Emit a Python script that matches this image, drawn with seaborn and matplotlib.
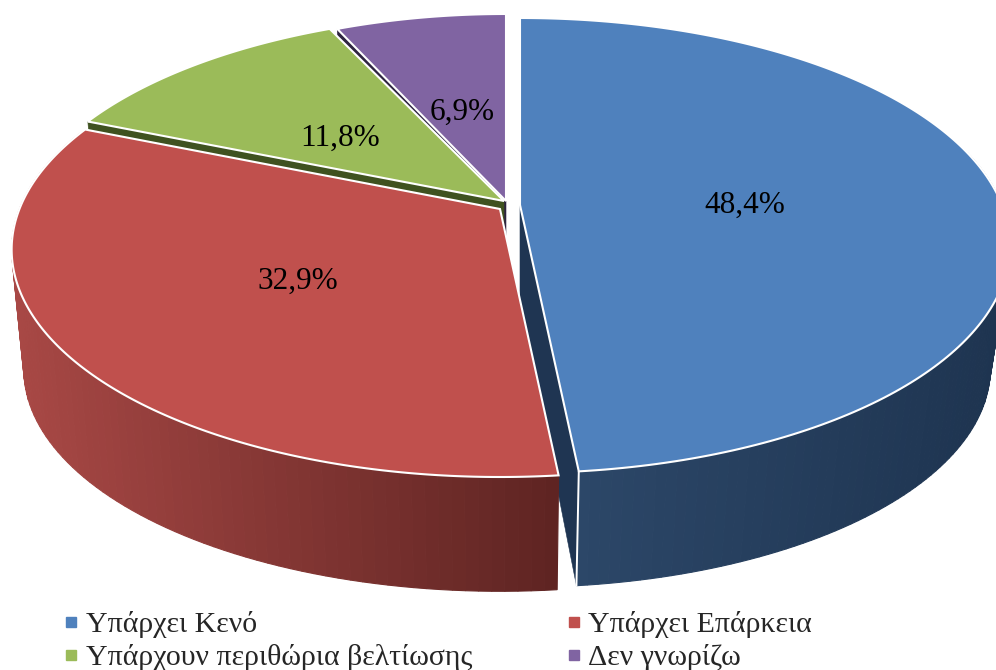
import numpy as np
import matplotlib
matplotlib.use("Agg")
import matplotlib.pyplot as plt
from matplotlib.lines import Line2D
from matplotlib.colors import to_rgb
import seaborn as sns

categories = ["Υπάρχει Κενό", "Υπάρχει Επάρκεια", "Υπάρχουν περιθώρια βελτίωσης", "Δεν γνωρίζω"]
values = [48.4, 32.9, 11.8, 6.9]
value_labels = ["48,4%", "32,9%", "11,8%", "6,9%"]

sns.set_theme(style="white")
plt.rcParams["font.family"] = ["Liberation Serif", "DejaVu Serif"]

top_colors = sns.color_palette(["#4F81BD", "#C0504D", "#9BBB59", "#8064A2"])
wall_light = ["#2C4768", "#A84845", "#3F5220", "#2E2440"]
wall_dark = ["#1E3450", "#5E2422", "#3F5220", "#2E2440"]
edge_walls = ["#1F3552", None, "#3F5220", "#2E2440"]

# pie geometry in pixels of the axes
A, B, K = 482.0, 220.3, 0.178
INNER_DEPTH = 94.0
apexes = [(520, 205), (500, 209), (504, 201), (506, 201)]
width_scale = [1.0, 0.997, 1.0, 0.968]
depths = [125.0, 121.0, 120.0, 120.0]
shrinks = [0.04, 0.025, 0.025, 0.025]
label_pos = [(745, 205), (298, 281), (340, 138), (462, 112)]


def project(theta, i, level=0.0):
    u, v = np.sin(theta), np.cos(theta)
    w = 1 + K * v
    s = 1 - shrinks[i] * level
    x = apexes[i][0] + s * A * width_scale[i] * u / w
    y = apexes[i][1] + depths[i] * level - s * B * v / w
    return x, y


fractions = np.cumsum([0] + values) / np.sum(values) * 2 * np.pi
starts, ends = fractions[:-1], fractions[1:]

fig = plt.figure(figsize=(9.96, 6.70), dpi=100, facecolor="white")
ax = fig.add_axes([0, 0, 1, 1])
ax.set_xlim(0, 996)
ax.set_ylim(670, 0)
ax.axis("off")


def top_face(i, z):
    t = np.linspace(starts[i], ends[i], 200)
    x, y = project(t, i)
    xs = np.r_[apexes[i][0], x]
    ys = np.r_[apexes[i][1], y]
    ax.fill(xs, ys, facecolor=top_colors[i], edgecolor="white", linewidth=1.5,
            joinstyle="miter", zorder=z)


def edge_wall(i, theta, z):
    x0, y0 = project(theta, i)
    x1, y1 = project(theta, i, 1)
    cx, cy = apexes[i]
    ax.fill([cx, x0, x1, cx], [cy, y0, y1, cy + INNER_DEPTH], facecolor=edge_walls[i],
            edgecolor=edge_walls[i], linewidth=0.4, zorder=z)


def outer_wall(i, z):
    t = np.linspace(max(starts[i], np.pi * 0.42), min(ends[i], np.pi * 1.62), 90)
    xt, yt = project(t, i)
    xb, yb = project(t, i, 1)
    lo, hi = np.array(to_rgb(wall_light[i])), np.array(to_rgb(wall_dark[i]))
    xmin, xmax = xt.min(), xt.max()
    for j in range(len(t) - 1):
        f = (0.5 * (xt[j] + xt[j + 1]) - xmin) / (xmax - xmin)
        c = lo + (hi - lo) * f
        ax.fill([xt[j], xt[j + 1], xb[j + 1], xb[j]], [yt[j], yt[j + 1], yb[j + 1], yb[j]],
                facecolor=c, edgecolor=c, linewidth=0.8, zorder=z)


# back to front: purple, green, blue, red
edge_wall(3, starts[3], 1)
top_face(3, 2)
edge_wall(2, starts[2], 3)
top_face(2, 4)
edge_wall(0, ends[0], 5)
outer_wall(0, 6)
x0, y0 = project(ends[0], 0)
x1, y1 = project(ends[0], 0, 1)
ax.plot([x0, x1], [y0, y1], color="white", linewidth=1.4, zorder=6.5)
top_face(0, 7)
outer_wall(1, 8)
top_face(1, 9)

for (x, y), s in zip(label_pos, value_labels):
    ax.text(x, y, s, ha="center", va="center", fontsize=22.5, color="black", zorder=20)

handles = [Line2D([], [], linestyle="", marker="s", markersize=6.8, color=top_colors[i],
                  label=categories[i]) for i in (0, 2, 1, 3)]
leg = ax.legend(handles=handles, ncol=2, loc="upper left", bbox_to_anchor=(64 / 996, 1 - 611 / 670),
                frameon=False, fontsize=21.5, handlelength=0.5, handletextpad=0.24,
                columnspacing=3.14, labelspacing=0.2, borderpad=0, borderaxespad=0)

fig.savefig("out.png", dpi=100, facecolor="white")
